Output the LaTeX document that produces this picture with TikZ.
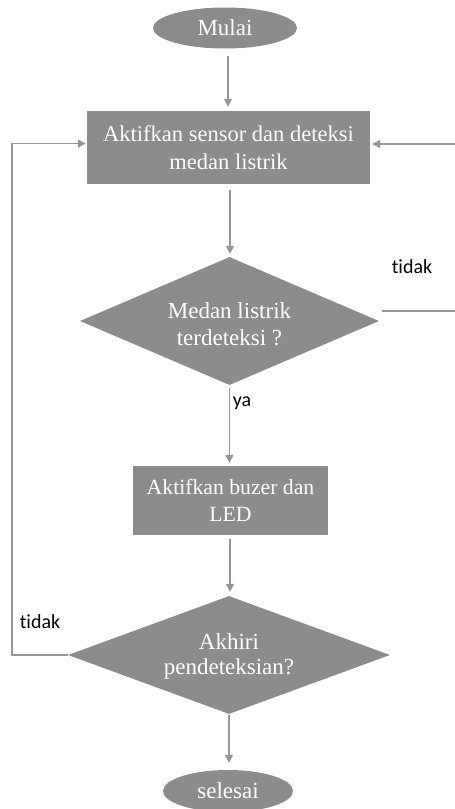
\documentclass[tikz,border=0pt]{standalone}
\usepackage{fontspec}
\setmainfont{Liberation Serif}
\newfontfamily\lblfont[Ligatures=NoCommon]{Carlito}
\usetikzlibrary{shapes.geometric,arrows.meta}
\definecolor{boxgray}{RGB}{140,140,140}
\definecolor{linegray}{RGB}{150,150,150}
\tikzset{
  proc/.style={rectangle, fill=boxgray, text=white, align=center, inner sep=0pt,
    font=\fontsize{22.5}{28}\selectfont},
  term/.style={ellipse, fill=boxgray, text=white, inner sep=0pt,
    font=\fontsize{23}{26}\selectfont},
  decis/.style={diamond, fill=boxgray, inner sep=0pt},
  dtext/.style={text=white, align=center, inner sep=0pt,
    font=\fontsize{23}{27}\selectfont},
  conn/.style={draw=linegray, line width=1.3pt, -{Triangle[width=8pt,length=8pt]}},
  plain/.style={draw=linegray, line width=1.3pt},
  lbl/.style={font=\lblfont\fontsize{20}{22}\selectfont, text=black, inner sep=0pt}
}
\begin{document}
\begin{tikzpicture}[x=1pt,y=-1pt]
\useasboundingbox (0,0) rectangle (455,809);
\node[term, minimum width=144pt, minimum height=41pt] (mulai) at (225,28) {Mulai};
\node[proc, minimum width=283pt, minimum height=73pt] (b1) at (228.5,147.5)
  {Aktifkan sensor dan deteksi\\medan listrik};
\node[decis, minimum width=299pt, minimum height=128pt] (d1) at (229.5,321) {};
\node[dtext] (d1t) at (229.5,324) {Medan listrik\\terdeteksi ?};
\node[proc, minimum width=195pt, minimum height=69pt, font=\fontsize{21.7}{27}\selectfont] (b2) at (230.5,500.5)
  {Aktifkan buzer dan\\LED};
\node[decis, minimum width=322pt, minimum height=118pt] (d2) at (229,655) {};
\node[dtext, font=\fontsize{23}{25}\selectfont] (d2t) at (229,656) {Akhiri\\pendeteksian?};
\node[term, minimum width=130pt, minimum height=42pt] (sel) at (228,791) {selesai};

\node[lbl] (tidak1) at (412,267) {tidak};
\node[lbl] (ya) at (242,403) {ya};
\node[lbl] (tidak2) at (40,622) {tidak};

\coordinate (rt) at (455,311);
\coordinate (rb) at (455,144);

\draw[conn, shorten <=7pt, shorten >=4pt] (mulai.south -| 228,0) -- (b1.north -| 228,0);
\draw[conn, shorten <=6pt, shorten >=3pt] (b1.south -| 230,0) -- (d1.north -| 230,0);
\draw[conn, shorten <=3pt, shorten >=3pt] (d1.south) -- (b2.north -| d1.south);
\draw[conn, shorten <=4pt, shorten >=4pt] (b2.south -| 230,0) -- (d2.north -| 230,0);
\draw[conn, shorten <=1pt, shorten >=7pt] (d2.south) -- (sel.north -| d2.south);
\draw[plain] (382,311) -- (rt);
\draw[conn, shorten >=2pt] (rb) -- (b1.east |- rb);
\draw[conn, shorten >=1pt] (d2.west) -- (12,655) |- ([yshift=4pt]b1.west);
\end{tikzpicture}
\end{document}
